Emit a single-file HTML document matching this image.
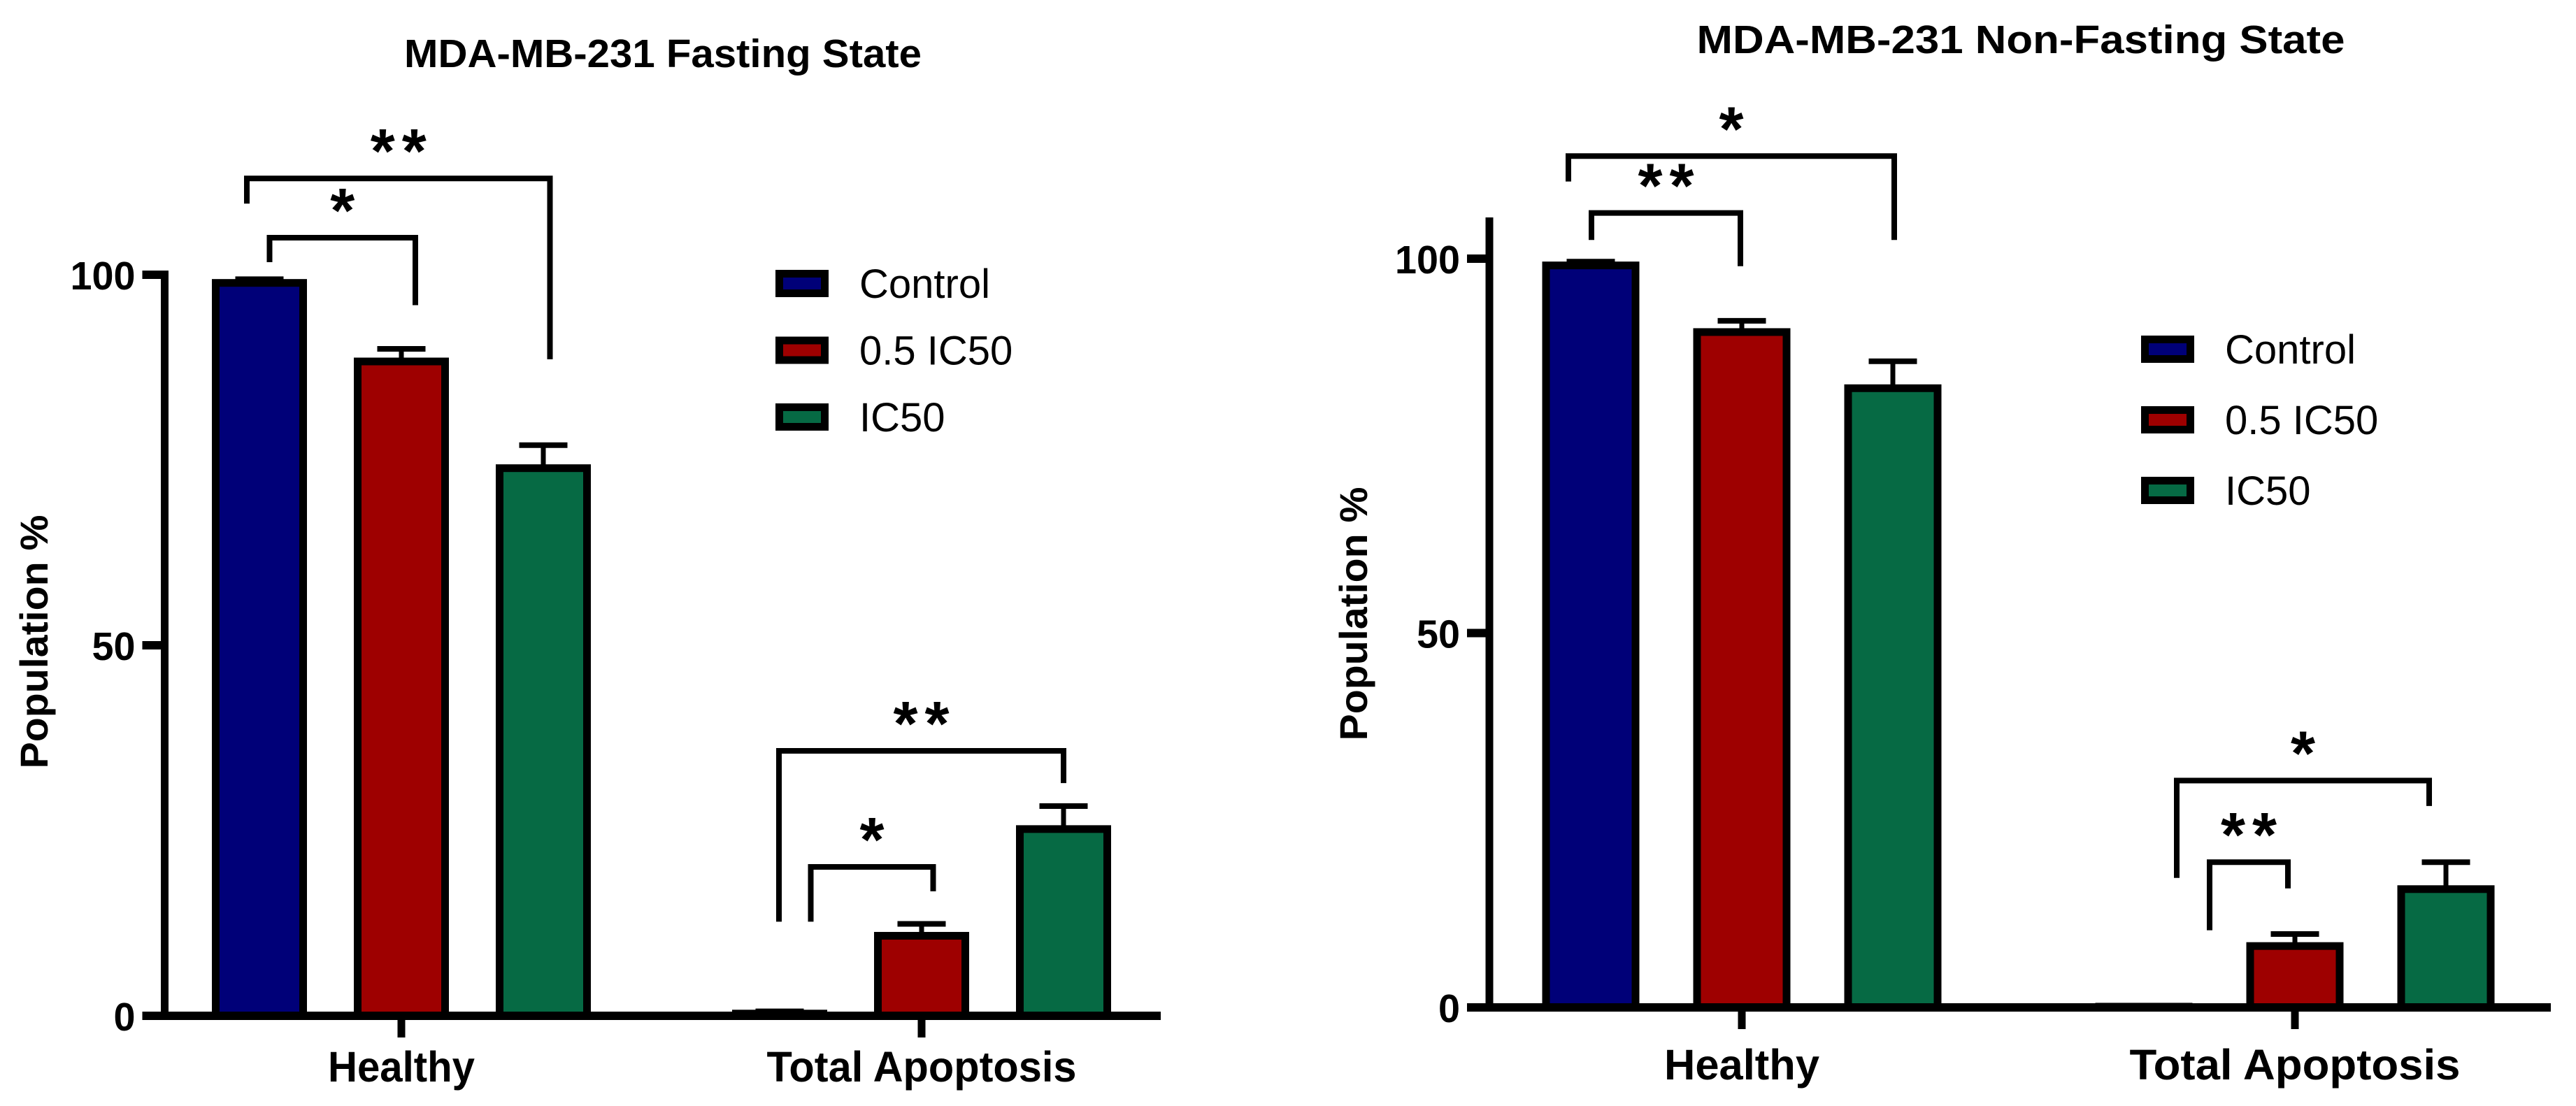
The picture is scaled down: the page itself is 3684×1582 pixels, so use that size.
<!DOCTYPE html>
<html><head><meta charset="utf-8"><style>
html,body{margin:0;padding:0;background:#fff;}
svg{display:block;}
text{font-family:"Liberation Sans",Arial,sans-serif;fill:#000;}
</style></head>
<body>
<svg id="fig" width="3684" height="1582" viewBox="0 0 3684 1582" xmlns="http://www.w3.org/2000/svg"></svg>
<script>
// ---- data ----
const groups = ["Healthy", "Total Apoptosis"];
const seriesNames = ["Control", "0.5 IC50", "IC50"];
const seriesColors = ["#000078", "#9e0000", "#066a44"];
const yTicks = [0, 50, 100];
// Fasting (left)
const fastControl = [98.9, 0.3];
const fastHalf = [88.3, 10.8];
const fastFull = [73.9, 25.2];
const fastControlErr = [99.4, 0.6];
const fastHalfErr = [90.0, 12.4];
const fastFullErr = [77.0, 28.3];
// Non-fasting (right)
const nonControl = [99.1, 0.1];
const nonHalf = [90.2, 8.2];
const nonFull = [82.7, 15.8];
const nonControlErr = [99.6, 0.15];
const nonHalfErr = [91.7, 9.8];
const nonFullErr = [86.3, 19.4];
// significance: [group, seriesA, seriesB, label, bracketValue, legAValue, legBValue]
const fastSig = [[0,0,1,"*",105.0,101.7,95.9],[0,0,2,"**",113.0,109.6,88.6],[1,0,1,"*",20.1,12.7,16.8],[1,0,2,"**",35.75,12.7,31.4]];
const nonSig = [[0,0,1,"**",106.1,102.5,99.0],[0,0,2,"*",113.7,110.3,102.5],[1,0,1,"**",19.4,10.3,15.9],[1,0,2,"*",30.3,17.3,26.9]];

const NS = "http://www.w3.org/2000/svg";
const svg = document.getElementById("fig");
function mk(tag, attrs, parent) {
  const e = document.createElementNS(NS, tag);
  for (const k in attrs) e.setAttribute(k, attrs[k]);
  (parent || svg).appendChild(e);
  return e;
}

function drawChart(cfg) {
  const g = mk("g", {});
  
  
  const y = v => cfg.y0 - (cfg.y0 - cfg.y100) * v / 100;
  const barCenter = (gi, si) => cfg.groupCenter[gi] + (si - 1) * cfg.spacing;

  const t = mk("text", {x: cfg.titleX, y: cfg.titleY, "text-anchor": "middle", "font-size": 57, "font-weight": "bold", textLength: cfg.titleLen, lengthAdjust: "spacingAndGlyphs"}, g);
  t.textContent = cfg.title;
  
  

  const yt = mk("text", {x: 0, y: 0, transform: `translate(${cfg.yTitleX},${cfg.yTitleY}) rotate(-90)`, "text-anchor": "middle", "font-size": 56, "font-weight": "bold", textLength: 363, lengthAdjust: "spacingAndGlyphs"}, g);
  yt.textContent = "Population %";
  
  

  const vals = cfg.values, errs = cfg.errors;
  for (let si = 0; si < 3; si++) {
    for (let gi = 0; gi < groups.length; gi++) {
      const cx = barCenter(gi, si), v = vals[si][gi], e = errs[si][gi];
      const eb = mk("g", {}, g);
      
      
      mk("line", {x1: cx, x2: cx, y1: y(v), y2: y(e), stroke: "#000", "stroke-width": 7}, eb);
      mk("line", {x1: cx - 34.5, x2: cx + 34.5, y1: y(e), y2: y(e), stroke: "#000", "stroke-width": 8}, eb);
      const r = mk("rect", {x: cx - cfg.barW / 2, y: y(v), width: cfg.barW, height: Math.max(0, cfg.y0 - y(v)), fill: seriesColors[si], stroke: "#000", "stroke-width": 11}, g);
      
      
    }
  }

  const ax = mk("g", {}, g);
  
  
  mk("line", {x1: cfg.axisX, x2: cfg.axisX, y1: cfg.axisTop, y2: cfg.y0 + 6, stroke: "#000", "stroke-width": 11}, ax);
  mk("line", {x1: cfg.axisX - 32, x2: cfg.xAxisEnd, y1: cfg.y0, y2: cfg.y0, stroke: "#000", "stroke-width": 12}, ax);
  yTicks.forEach(tv => {
    mk("line", {x1: cfg.axisX - 32, x2: cfg.axisX, y1: y(tv), y2: y(tv), stroke: "#000", "stroke-width": 12}, ax);
    const lab = String(tv);
    const tl = mk("text", {x: cfg.axisX - 42, y: y(tv) + 21, "text-anchor": "end", "font-size": 57, "font-weight": "bold", textLength: lab.length * 31, lengthAdjust: "spacingAndGlyphs"}, ax);
    tl.textContent = lab;
    
    
  });
  groups.forEach((gn, gi) => {
    const cx = cfg.groupCenter[gi];
    mk("line", {x1: cx, x2: cx, y1: cfg.y0, y2: cfg.y0 + 31, stroke: "#000", "stroke-width": 11}, ax);
    const xl = mk("text", {x: cx, y: cfg.xLabelY, "text-anchor": "middle", "font-size": 61, "font-weight": "bold", textLength: cfg.xLabelLen[gi], lengthAdjust: "spacingAndGlyphs"}, ax);
    xl.textContent = gn;
    
    
  });

  cfg.sig.forEach((s, i) => {
    const [gi, a, b, lab, bv, la, lb] = s;
    const xa = barCenter(gi, a) + cfg.legOffset[i][0];
    const xb = barCenter(gi, b) + cfg.legOffset[i][1];
    const sb = mk("g", {}, g);
    
    
    mk("polyline", {points: `${xa},${y(la)} ${xa},${y(bv)} ${xb},${y(bv)} ${xb},${y(lb)}`, fill: "none", stroke: "#000", "stroke-width": 8, "stroke-linejoin": "miter"}, sb);
    const st = mk("text", {x: (xa + xb) / 2 + (lab.length > 1 ? 5 : 0), y: y(bv) - 8, "text-anchor": "middle", "font-size": 90, "font-weight": "bold", "letter-spacing": lab.length > 1 ? 10 : 0}, sb);
    st.textContent = lab;
    
    
  });

  const lg = mk("g", {}, g);
  
  
  seriesNames.forEach((sn, si) => {
    const by = cfg.legendY + si * cfg.legendStep;
    const le = mk("g", {}, lg);
    
    
    mk("rect", {x: cfg.legendX + 5.5, y: by + 5.5, width: 65, height: 28, fill: seriesColors[si], stroke: "#000", "stroke-width": 11}, le);
    const lt = mk("text", {x: cfg.legendX + 120, y: by + 40, "font-size": 58}, le);
    lt.textContent = sn;
  });
}

drawChart({
  name: "fasting-chart", title: "MDA-MB-231 Fasting State", titleX: 948, titleY: 96, titleLen: 740,
  yTitleX: 68, yTitleY: 918,
  y0: 1453, y100: 393, axisX: 235.5, axisTop: 387, xAxisEnd: 1660,
  groupCenter: [574, 1318], spacing: 203, barW: 125,
  values: [fastControl, fastHalf, fastFull], errors: [fastControlErr, fastHalfErr, fastFullErr],
  xLabelY: 1547, xLabelLen: [210, 443],
  sig: fastSig, legOffset: [[14.5, 20], [-18, 9.5], [44.5, 16.5], [-1, 0]],
  legendX: 1109, legendY: 386, legendStep: 95.5
});
drawChart({
  name: "non-fasting-chart", title: "MDA-MB-231 Non-Fasting State", titleX: 2890, titleY: 76, titleLen: 927,
  yTitleX: 1955, yTitleY: 878,
  y0: 1441, y100: 370, axisX: 2130, axisTop: 311, xAxisEnd: 3648,
  groupCenter: [2491, 3282], spacing: 216, barW: 128,
  values: [nonControl, nonHalf, nonFull], errors: [nonControlErr, nonHalfErr, nonFullErr],
  xLabelY: 1544, xLabelLen: [222, 473],
  sig: nonSig, legOffset: [[1, -2], [-32, 2], [94, -10], [47, -24]],
  legendX: 3062, legendY: 480, legendStep: 101
});
</script>
</body></html>
